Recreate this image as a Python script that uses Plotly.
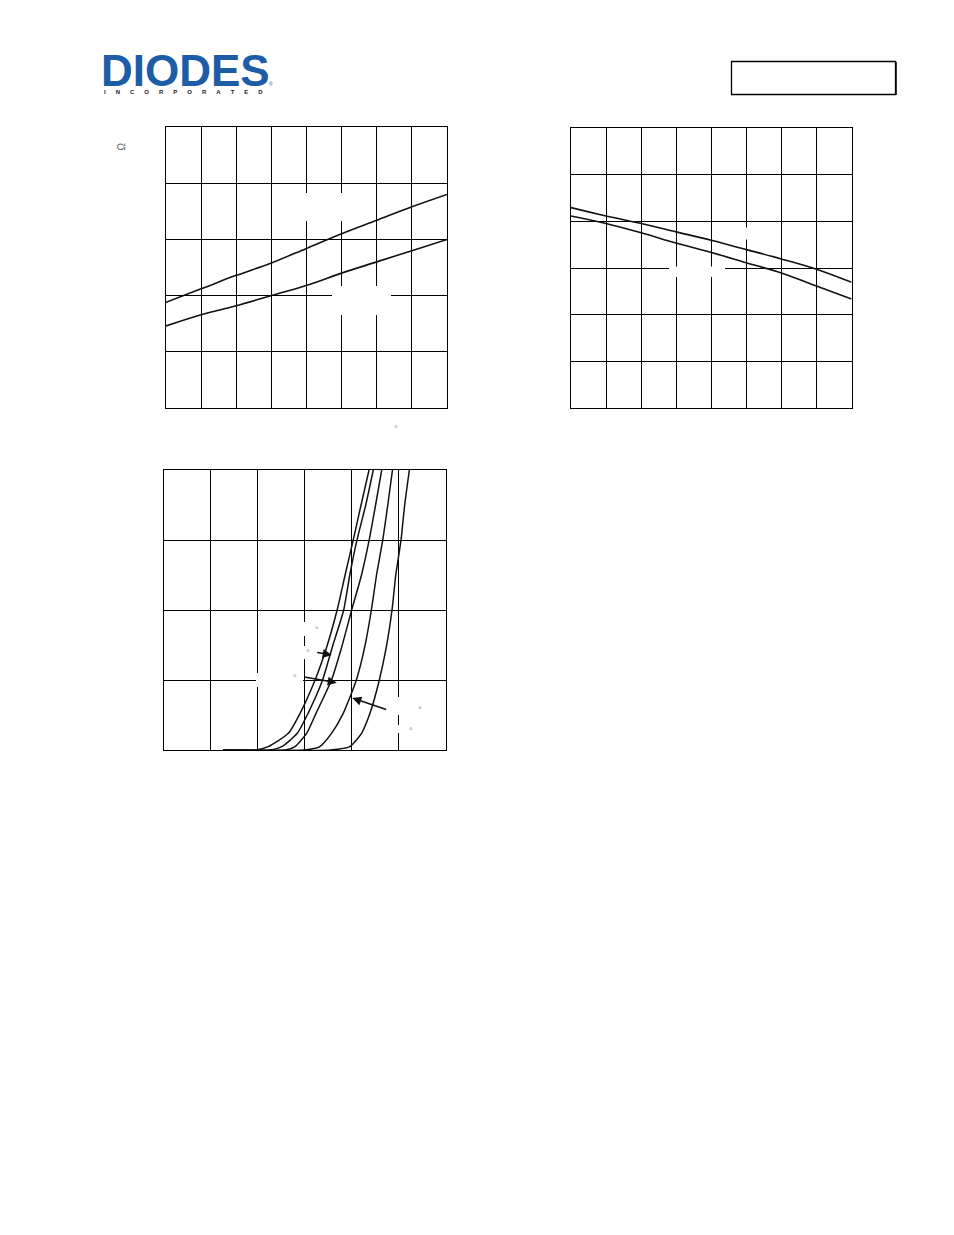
import plotly.graph_objects as go

W, H = 954, 1235

# ---------------- data ----------------
temp = [-50, -25, 0, 25, 50, 75, 100, 125, 150]
rds_upper = [0.94, 1.06, 1.18, 1.29, 1.42, 1.55, 1.67, 1.79, 1.90]
rds_lower = [0.73, 0.83, 0.91, 1.00, 1.09, 1.20, 1.30, 1.40, 1.50]
vth_upper = [2.15, 2.06, 1.98, 1.89, 1.80, 1.70, 1.60, 1.49, 1.35]
vth_lower = [2.06, 1.98, 1.88, 1.77, 1.67, 1.56, 1.45, 1.31, 1.17]

id_vals = [0, 0, 0.24, 1.19, 2.62, 5.0, 7.38, 10.0, 12.5, 14.95, 17.5, 20.0]
vgs_c1 = [1.26, 1.95, 2.22, 2.65, 2.90, 3.22, 3.47, 3.69, 3.86, 4.03, 4.20, 4.37]
vgs_c2 = [1.26, 2.26, 2.51, 2.84, 3.07, 3.38, 3.59, 3.83, 3.96, 4.11, 4.30, 4.46]
vgs_c3 = [1.26, 2.58, 2.79, 3.04, 3.24, 3.57, 3.79, 4.00, 4.21, 4.37, 4.51, 4.64]
vgs_c4 = [1.26, 3.00, 3.32, 3.57, 3.82, 4.10, 4.28, 4.42, 4.53, 4.66, 4.77, 4.87]
vgs_c5 = [1.26, 3.54, 3.96, 4.21, 4.39, 4.59, 4.74, 4.86, 4.94, 5.05, 5.13, 5.23]

logo_word = "DIODES"
logo_sub = "INCORPORATED"


def fx(p):
    return p / W


def fy(p):
    return 1 - p / H


fig = go.Figure()
line_style = dict(color="#111111", width=1.6)

fig.add_trace(go.Scatter(x=temp, y=rds_upper, mode="lines", line=dict(shape="spline", **line_style), xaxis="x", yaxis="y"))
fig.add_trace(go.Scatter(x=temp, y=rds_lower, mode="lines", line=dict(shape="spline", **line_style), xaxis="x", yaxis="y"))
fig.add_trace(go.Scatter(x=temp, y=vth_upper, mode="lines", line=dict(shape="spline", **line_style), xaxis="x2", yaxis="y2"))
fig.add_trace(go.Scatter(x=temp, y=vth_lower, mode="lines", line=dict(shape="spline", **line_style), xaxis="x2", yaxis="y2"))
for v in [vgs_c1, vgs_c2, vgs_c3, vgs_c4, vgs_c5]:
    fig.add_trace(go.Scatter(x=v, y=id_vals, mode="lines",
                             line=dict(shape="spline", smoothing=0.6, color="#111111", width=1.5),
                             xaxis="x3", yaxis="y3"))

ax_common = dict(showgrid=True, gridcolor="black", gridwidth=1, showline=True, linecolor="black",
                 linewidth=1, mirror=True, showticklabels=False, ticks="", zeroline=False, fixedrange=True)

fig.update_layout(
    width=W, height=H, margin=dict(l=0, r=0, t=0, b=0),
    paper_bgcolor="white", plot_bgcolor="white", showlegend=False,
    xaxis=dict(domain=[fx(166), fx(447)], range=[-50, 150], tick0=-50, dtick=25, anchor="y", **ax_common),
    yaxis=dict(domain=[fy(408), fy(127)], range=[0, 2.5], tick0=0, dtick=0.5, anchor="x", **ax_common),
    xaxis2=dict(domain=[fx(571), fx(851.5)], range=[-50, 150], tick0=-50, dtick=25, anchor="y2", **ax_common),
    yaxis2=dict(domain=[fy(408.3), fy(128.3)], range=[0, 3], tick0=0, dtick=0.5, anchor="x2", **ax_common),
    xaxis3=dict(domain=[fx(164), fx(445.5)], range=[0, 6], tick0=0, dtick=1, anchor="y3", **ax_common),
    yaxis3=dict(domain=[fy(750), fy(470)], range=[0, 20], tick0=0, dtick=5, anchor="x3", **ax_common),
)

# white label backgrounds that interrupt the grid
boxes = [
    (296, 193, 352, 221), (332, 286, 391, 315),
    (669, 266.5, 725, 277), (738, 227.5, 756, 239.5),
    (285, 622, 318, 636), (280, 646, 310, 659), (256, 673, 303, 687),
    (393, 697, 432, 715), (393, 725, 432, 733),
]
shapes = []
for x0, y0, x1, y1 in boxes:
    shapes.append(dict(type="rect", xref="paper", yref="paper", x0=fx(x0), x1=fx(x1), y0=fy(y1), y1=fy(y0),
                       fillcolor="white", line=dict(width=0), layer="above"))
# top-right box
shapes.append(dict(type="rect", xref="paper", yref="paper", x0=fx(731.5), x1=fx(895.5), y0=fy(94.5), y1=fy(61.5),
                   line=dict(color="black", width=1.3), fillcolor="rgba(0,0,0,0)", layer="above"))
shapes.append(dict(type="line", xref="paper", yref="paper", x0=fx(896), x1=fx(896), y0=fy(95), y1=fy(62),
                   line=dict(color="black", width=1.5), layer="above"))

annotations = []
# logo
annotations.append(dict(text="<b>" + logo_word + "</b>", x=fx(99), y=fy(71), xref="paper", yref="paper",
                        xanchor="left", yanchor="middle", showarrow=False,
                        font=dict(family="Liberation Sans", size=44, color="#1D5CA6")))
annotations.append(dict(text="®", x=fx(271), y=fy(84), xref="paper", yref="paper",
                        xanchor="center", yanchor="middle", showarrow=False,
                        font=dict(family="Liberation Sans", size=5, color="#1D5CA6")))
sep = "\u00a0" * 6
annotations.append(dict(text="<b>" + sep.join(logo_sub) + "</b>", x=fx(183), y=fy(92.5),
                        xref="paper", yref="paper", xanchor="center", yanchor="middle", showarrow=False,
                        font=dict(family="Liberation Sans", size=6, color="#222222")))

# stray symbols
annotations.append(dict(text="Ω", x=fx(114), y=fy(141), xref="paper", yref="paper", textangle=-90,
                        showarrow=False, font=dict(family="Liberation Sans", size=10, color="#666666")))
for (xx, yy) in [(396, 427), (313.3, 627.7), (304, 651), (291, 676), (420, 708.3), (411, 728.7)]:
    annotations.append(dict(text="°", x=fx(xx), y=fy(yy + 2), xref="paper", yref="paper",
                            showarrow=False, font=dict(family="Liberation Sans", size=9, color="#888888")))

# arrows in panel 3
for (hx, hy, tx, ty) in [(331.7, 655, 315.7, 652.3), (336.7, 682.7, 302.7, 676.7), (352.3, 698, 387.7, 710)]:
    annotations.append(dict(text="", x=fx(hx), y=fy(hy), xref="paper", yref="paper", showarrow=True,
                            ax=tx - hx, ay=ty - hy, arrowhead=2, arrowsize=1.2, arrowwidth=1.5,
                            arrowcolor="#111111", standoff=0, startstandoff=0))

fig.update_layout(shapes=shapes, annotations=annotations)
fig.write_html("out.html", config={"displayModeBar": False},
               post_script="document.body.style.margin='0';document.body.style.padding='0';")
